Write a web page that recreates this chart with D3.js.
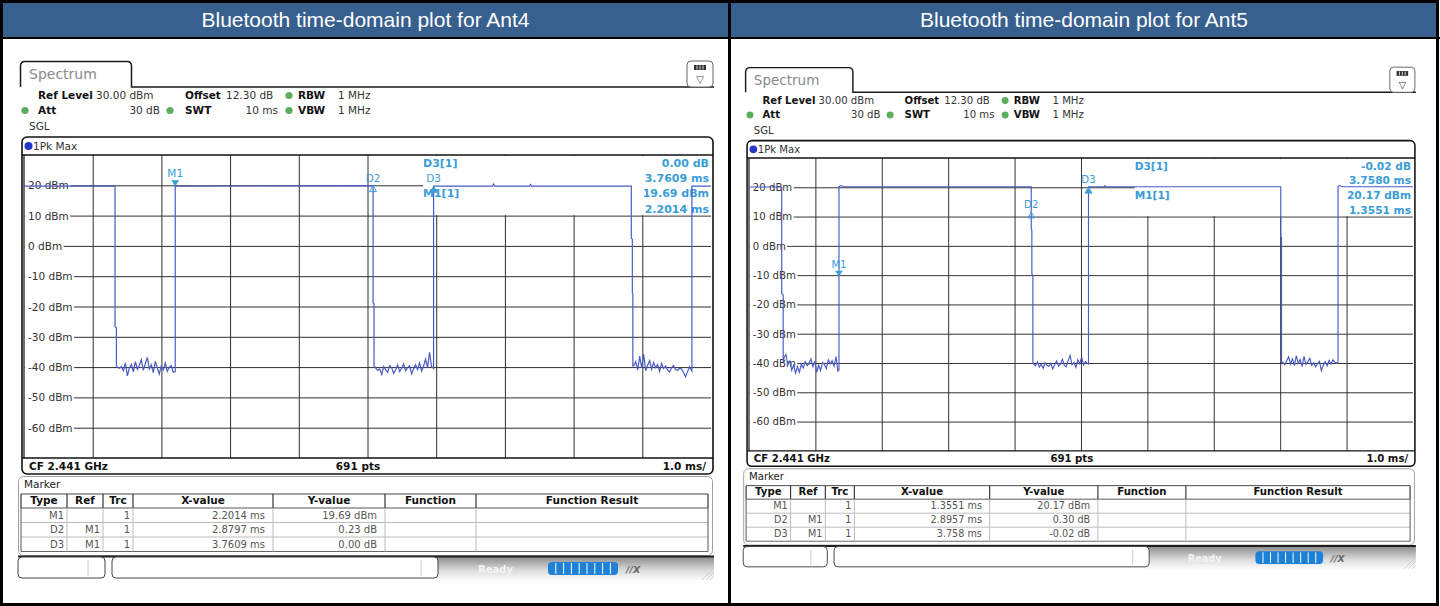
<!DOCTYPE html>
<html>
<head>
<meta charset="utf-8">
<script src="https://cdn.jsdelivr.net/npm/d3@7"></script>
<style>
  body { margin: 0; background: #fff; }
  svg text { font-family: "DejaVu Sans", sans-serif; }
</style>
</head>
<body>
<svg id="chart" width="1440" height="606"></svg>
<script>
// ---- data ----
const panelTitles = ["Bluetooth time-domain plot for Ant4", "Bluetooth time-domain plot for Ant5"];

const yTicksDbm = [20, 10, 0, -10, -20, -30, -40, -50, -60];
const xGridMs = [1, 2, 3, 4, 5, 6, 7, 8, 9];
const sweepStepMs = 0.029; // every 2nd of 691 sweep points over 10 ms

// Ant4 trace: edges and flat tops, [ms, dBm]
const ant4Edges1 = [[0, 19.7], [1.325, 19.7], [1.325, -26.7], [1.345, -27], [1.345, -39.5]];
const ant4Noise1 = [-40.1, -40.4, -39.8, -41.2, -38.6, -42.9, -40.3, -39.1, -41.6, -38.2, -40.7, -39.4, -37.5, -41.1, -38.9,
  -36.8, -40.6, -39.2, -41.8, -38.1, -40.2, -42.3, -39.6, -40.9, -38.7, -41.4, -40.1, -39.5, -41.7];
const ant4Edges2 = [[2.2014, -41.5], [2.2014, 19.69], [5.0811, 19.9], [5.0811, -18.8], [5.095, -19.2], [5.095, -39.6]];
const ant4Noise2 = [-40.3, -41.1, -40.6, -42.4, -39.8, -40.9, -41.7, -39.5, -40.2, -42.1, -40.8, -39.3, -41.5, -40.4, -38.9,
  -41.2, -40.1, -39.6, -42.2, -40.5, -39.2, -40.8, -38.6, -41.3, -39.7, -37.4, -40.2, -35.1, -39.8];
const ant4Edges3 = [[5.9623, -40.5], [5.9623, 19.7], [6.82, 19.7], [6.835, 20.4], [6.85, 19.7], [7.36, 19.7], [7.375, 20.3],
  [7.39, 19.7], [8.84, 19.7], [8.84, 2.6], [8.855, 2.2], [8.855, -15.5], [8.862, -16], [8.862, -39.6]];
const ant4Noise3 = [-39.6, -38.2, -40.9, -36.4, -40.3, -35.8, -41.2, -39.4, -37.9, -40.7, -38.5, -40.2, -39.1, -41.4, -38.8,
  -40.5, -39.7, -40.9, -41.6, -40.2, -39.5, -40.8, -41.1, -40.3, -40.6, -41.8, -43.2, -41.5, -39.9];
const ant4Edges4 = [[9.7223, -41.3], [9.7223, 19.7], [10, 19.7]];

// Ant5 trace
const ant5Edges1 = [[0, 20.1], [0.4925, 20.1], [0.4925, -16.3], [0.515, -16.8], [0.515, -39.6]];
const ant5Noise1 = [-38.2, -37.1, -40.6, -39.3, -42.5, -40.8, -43.4, -41.2, -43.1, -40.4, -41.7, -39.6, -40.9, -40.2, -38.6,
  -41.3, -39.4, -43.2, -40.7, -42.6, -39.8, -40.5, -41.9, -38.9, -40.3, -39.2, -41.1, -37.8, -42.8];
const ant5Edges2 = [[1.3551, -42.5], [1.3551, 20.2], [1.39, 20.6], [1.43, 20.2], [4.2508, 20.2], [4.2508, 5.8], [4.26, 5.4],
  [4.26, -9.6], [4.275, -10.1], [4.275, -39.5]];
const ant5Noise2 = [-40.2, -40.9, -39.6, -41.4, -40.5, -41.8, -39.9, -40.7, -41.2, -40.1, -42.0, -40.6, -39.3, -41.1, -40.4,
  -38.7, -40.8, -41.3, -39.2, -37.4, -40.6, -39.8, -41.5, -38.9, -40.3, -37.9, -40.7, -39.5, -40.2];
const ant5Edges3 = [[5.1131, -40.3], [5.1131, 20.2], [5.35, 20.2], [5.36, 20.6], [5.38, 20.2], [8.009, 20.2], [8.009, 3.0],
  [8.02, 2.8], [8.02, -39.8]];
const ant5Noise3 = [-39.8, -40.6, -39.2, -37.9, -40.4, -38.6, -40.9, -37.5, -40.1, -38.8, -41.2, -37.7, -40.5, -39.6, -38.4,
  -40.8, -39.9, -41.3, -40.2, -39.4, -42.6, -40.8, -39.5, -40.9, -39.1, -40.4, -38.9, -39.7, -40.1];
const ant5Edges4 = [[8.8711, -39.7], [8.8711, 20.3], [8.9, 20.6], [8.93, 20.2], [10, 20.2]];

// noise floor start times (ms)
const ant4NoiseStart = [1.36, 5.12, 8.875];
const ant5NoiseStart = [0.527, 4.285, 8.04];

// markers as drawn on screen
const markerNames = ["M1", "D2", "D3"];
const ant4MarkerMs = [2.2014, 5.0811, 5.9623];
const ant4MarkerDbm = [19.69, 19.9, 19.69];
const ant5MarkerMs = [1.3551, 4.2508, 5.1131];
const ant5MarkerDbm = [-10.5, 11.5, 20.0];

// marker readout in the top-right corner of the diagram
const ant4Readout = ["0.00 dB", "3.7609 ms", "19.69 dBm", "2.2014 ms"];
const ant5Readout = ["-0.02 dB", "3.7580 ms", "20.17 dBm", "1.3551 ms"];

// marker table
const tableHeaders = ["Type", "Ref", "Trc", "X-value", "Y-value", "Function", "Function Result"];
const ant4Rows = [["M1", "", "1", "2.2014 ms", "19.69 dBm"], ["D2", "M1", "1", "2.8797 ms", "0.23 dB"], ["D3", "M1", "1", "3.7609 ms", "0.00 dB"]];
const ant5Rows = [["M1", "", "1", "1.3551 ms", "20.17 dBm"], ["D2", "M1", "1", "2.8957 ms", "0.30 dB"], ["D3", "M1", "1", "3.758 ms", "-0.02 dB"]];

// ---- helpers ----
function burst(start, values) {
  return values.map((v, i) => [start + i * sweepStepMs, v]);
}

const TRACE = "#4a5bc6";
const MARK = "#3a9dd6";
const GRID = "#2e2e2e";

function txt(g, x, y, s, opt = {}) {
  return g.append("text")
    .attr("x", x).attr("y", y)
    .attr("font-size", opt.size || 10.5)
    .attr("font-weight", opt.bold ? "bold" : "normal")
    .attr("fill", opt.fill || "#333")
    .attr("text-anchor", opt.anchor || "start")
    .text(s);
}

function drawHeaderInfo(g) {
  // Spectrum tab
  g.append("path")
    .attr("d", "M20.5,87 V66 Q20.5,61.5 25,61.5 H127 Q131.5,61.5 131.5,66 V87 H714")
    .attr("fill", "none").attr("stroke", "#1a1a1a").attr("stroke-width", 1.5);
  txt(g, 29, 79, "Spectrum", {size: 14, fill: "#8a8a8a"});

  // top-right icon
  g.append("rect").attr("x", 687).attr("y", 61).attr("width", 26).attr("height", 26).attr("rx", 4)
    .attr("fill", "#fff").attr("stroke", "#666");
  g.append("rect").attr("x", 694).attr("y", 65).attr("width", 12).attr("height", 5).attr("fill", "#333");
  [697, 700, 703].forEach(xx => g.append("line").attr("x1", xx).attr("x2", xx).attr("y1", 65.5).attr("y2", 69.5)
    .attr("stroke", "#fff").attr("stroke-width", 0.8));
  txt(g, 700, 83, "▽", {size: 10, anchor: "middle", fill: "#444"});

  const dot = (cx, cy) => g.append("circle").attr("cx", cx).attr("cy", cy).attr("r", 3.6).attr("fill", "#5cae5c");
  txt(g, 38, 99, "Ref Level", {bold: true, fill: "#111"});
  txt(g, 96, 99, "30.00 dBm");
  txt(g, 185, 99, "Offset", {bold: true, fill: "#111"});
  txt(g, 226, 99, "12.30 dB");
  dot(289, 95.5);
  txt(g, 298, 99, "RBW", {bold: true, fill: "#111"});
  txt(g, 338, 99, "1 MHz");

  dot(25, 110.5);
  txt(g, 38, 114, "Att", {bold: true, fill: "#111"});
  txt(g, 160, 114, "30 dB", {anchor: "end"});
  dot(170, 110.5);
  txt(g, 185, 114, "SWT", {bold: true, fill: "#111"});
  txt(g, 278, 114, "10 ms", {anchor: "end"});
  dot(289, 110.5);
  txt(g, 298, 114, "VBW", {bold: true, fill: "#111"});
  txt(g, 338, 114, "1 MHz");

  txt(g, 29, 130, "SGL");
}

function drawDiagram(g, trace, mMs, mDbm, readout) {
  const x = d3.scaleLinear().domain([0, 10]).range([24, 711]);
  const y = d3.scaleLinear().domain([-70, 30]).range([458, 155]);
  const w = x(10) - x(0), h = y(-70) - y(30);

  // frame with 1Pk Max title
  g.append("rect").attr("x", 22).attr("y", 137).attr("width", 691).attr("height", 337).attr("rx", 5)
    .attr("fill", "#fff").attr("stroke", "#111").attr("stroke-width", 1.6);
  g.append("circle").attr("cx", 28.5).attr("cy", 146).attr("r", 4).attr("fill", "#2338c8");
  txt(g, 33, 150, "1Pk Max");

  // grid
  g.append("g").attr("transform", `translate(0,${y(-70)})`)
    .call(d3.axisBottom(x).tickValues(xGridMs).tickSize(-h).tickFormat(""))
    .call(a => a.select(".domain").remove())
    .selectAll("line").attr("stroke", GRID).attr("stroke-width", 1);
  g.append("g").attr("transform", `translate(${x(0)},0)`)
    .call(d3.axisLeft(y).tickValues(yTicksDbm).tickSize(-w).tickFormat(""))
    .call(a => a.select(".domain").remove())
    .selectAll("line").attr("stroke", GRID).attr("stroke-width", 1);

  // readout area covers the top right of the grid
  g.append("rect").attr("x", 423).attr("y", y(30) + 1).attr("width", x(10) - 423).attr("height", y(10) - y(30) - 1.5)
    .attr("fill", "#fff");
  txt(g, 423, 167, "D3[1]", {bold: true, fill: MARK, size: 11});
  txt(g, 423, 197, "M1[1]", {bold: true, fill: MARK, size: 11});
  readout.forEach((s, i) => txt(g, 709, [167, 182, 197, 213][i], s, {bold: true, fill: MARK, size: 11, anchor: "end"}));

  // level labels on white background
  yTicksDbm.forEach(v => {
    const t = txt(g, 28, y(v) + 4, `${v} dBm`, {size: 10.5});
    const bb = t.node().getBBox();
    g.insert("rect", () => t.node()).attr("x", 24.5).attr("y", y(v) - 6).attr("width", bb.x + bb.width - 23)
      .attr("height", 12).attr("fill", "#fff");
  });

  // plot borders
  g.append("line").attr("x1", 22).attr("x2", 713).attr("y1", y(30)).attr("y2", y(30)).attr("stroke", "#111").attr("stroke-width", 1.4);
  g.append("line").attr("x1", 22).attr("x2", 713).attr("y1", y(-70)).attr("y2", y(-70)).attr("stroke", "#111").attr("stroke-width", 1.4);
  g.append("line").attr("x1", x(0)).attr("x2", x(0)).attr("y1", y(30)).attr("y2", y(-70)).attr("stroke", "#111").attr("stroke-width", 1.2);

  // trace
  g.append("path").datum(trace)
    .attr("d", d3.line().x(d => x(d[0])).y(d => y(d[1])))
    .attr("fill", "none").attr("stroke", TRACE).attr("stroke-width", 1.2);

  // markers
  markerNames.forEach((name, i) => {
    const mx = x(mMs[i]), my = y(mDbm[i]);
    if (name === "M1") {
      g.append("path").attr("d", `M${mx - 4},${my - 6}L${mx + 4},${my - 6}L${mx},${my}Z`).attr("fill", MARK);
      txt(g, mx, my - 9, name, {fill: MARK, anchor: "middle"});
    } else {
      g.append("path").attr("d", `M${mx - 3.5},${my + 6}L${mx + 3.5},${my + 6}L${mx},${my}Z`)
        .attr("fill", name === "D3" ? MARK : "none").attr("stroke", MARK).attr("stroke-width", 1);
      txt(g, mx, my - 4, name, {fill: MARK, anchor: "middle"});
    }
  });

  // footer of diagram
  txt(g, 29, 470, "CF 2.441 GHz", {bold: true, fill: "#111"});
  txt(g, 358, 470, "691 pts", {bold: true, fill: "#111", anchor: "middle"});
  txt(g, 706, 470, "1.0 ms/", {bold: true, fill: "#111", anchor: "end"});
}

function drawMarkerTable(g, rows) {
  g.append("rect").attr("x", 18.5).attr("y", 476.5).attr("width", 694).attr("height", 79).attr("rx", 5)
    .attr("fill", "#fff").attr("stroke", "#a0a0a0");
  txt(g, 24, 488, "Marker", {fill: "#222"});

  const cols = [21, 67, 103, 133, 273, 385, 476, 708];
  const rowY = [494, 508, 522.5, 537, 551.5];
  // row lines
  g.append("line").attr("x1", cols[0]).attr("x2", cols[7]).attr("y1", rowY[0]).attr("y2", rowY[0]).attr("stroke", "#444");
  g.append("line").attr("x1", cols[0]).attr("x2", cols[7]).attr("y1", rowY[1]).attr("y2", rowY[1]).attr("stroke", "#555");
  [rowY[2], rowY[3]].forEach(yy => g.append("line").attr("x1", cols[0]).attr("x2", cols[7]).attr("y1", yy).attr("y2", yy).attr("stroke", "#bbb"));
  g.append("line").attr("x1", cols[0]).attr("x2", cols[7]).attr("y1", rowY[4]).attr("y2", rowY[4]).attr("stroke", "#666");
  cols.forEach((cx, i) => {
    const edge = i === 0 || i === cols.length - 1;
    g.append("line").attr("x1", cx).attr("x2", cx).attr("y1", rowY[0]).attr("y2", rowY[1])
      .attr("stroke", "#333").attr("stroke-width", 1.2);
    g.append("line").attr("x1", cx).attr("x2", cx).attr("y1", rowY[1]).attr("y2", rowY[4])
      .attr("stroke", edge ? "#555" : "#bbb");
  });
  tableHeaders.forEach((hd, i) => txt(g, (cols[i] + cols[i + 1]) / 2, 504, hd, {bold: true, fill: "#111", anchor: "middle", size: 10.5}));
  rows.forEach((r, ri) => {
    r.forEach((s, ci) => {
      const pad = ci >= 3 ? 8 : 3;
      txt(g, cols[ci + 1] - pad, rowY[ri + 1] + 10.5, s, {anchor: "end", fill: "#555", size: 10});
    });
  });
}

function drawStatusBar(g, id) {
  const grad = g.append("defs").append("linearGradient").attr("id", id).attr("x1", 0).attr("x2", 0).attr("y1", 0).attr("y2", 1);
  grad.append("stop").attr("offset", "0%").attr("stop-color", "#8d8d8d");
  grad.append("stop").attr("offset", "55%").attr("stop-color", "#dadada");
  grad.append("stop").attr("offset", "100%").attr("stop-color", "#ffffff");
  g.append("rect").attr("x", 430).attr("y", 557).attr("width", 284).attr("height", 24).attr("fill", `url(#${id})`);
  g.append("line").attr("x1", 18).attr("x2", 714).attr("y1", 556.5).attr("y2", 556.5).attr("stroke", "#1e1e1e").attr("stroke-width", 2.2);

  g.append("rect").attr("x", 18).attr("y", 557).attr("width", 87).attr("height", 21).attr("rx", 4)
    .attr("fill", "#fff").attr("stroke", "#444");
  g.append("line").attr("x1", 88).attr("x2", 88).attr("y1", 560).attr("y2", 576).attr("stroke", "#ccc");
  g.append("rect").attr("x", 112).attr("y", 557).attr("width", 326).attr("height", 21).attr("rx", 4)
    .attr("fill", "#fff").attr("stroke", "#444");
  g.append("line").attr("x1", 421).attr("x2", 421).attr("y1", 560).attr("y2", 576).attr("stroke", "#ccc");

  txt(g, 478, 573, "Ready", {bold: true, fill: "#f4f4f4", size: 10});
  g.append("rect").attr("x", 548).attr("y", 562).attr("width", 70).attr("height", 13).attr("rx", 4).attr("fill", "#1f80d8");
  d3.range(1, 9).forEach(k => g.append("line").attr("x1", 548 + k * 7.8).attr("x2", 548 + k * 7.8)
    .attr("y1", 563).attr("y2", 574).attr("stroke", "#fff").attr("stroke-width", 1));
  txt(g, 626, 573, "//X", {bold: true, fill: "#666", size: 9.5}).attr("font-style", "italic");
  [0, 4, 8].forEach(o => g.append("line").attr("x1", 702 + o).attr("x2", 713).attr("y1", 580).attr("y2", 569 + o)
    .attr("stroke", "#c8c8c8").attr("stroke-width", 0.8));
}

function drawScreen(g, trace, mMs, mDbm, readout, rows, id) {
  drawHeaderInfo(g);
  drawDiagram(g, trace, mMs, mDbm, readout);
  drawMarkerTable(g, rows);
  drawStatusBar(g, id);
}

// ---- page ----
const svg = d3.select("#chart");
svg.append("rect").attr("width", 1440).attr("height", 606).attr("fill", "#fff");

const cells = [[3, 728], [731, 1437]];
cells.forEach(([x0, x1], i) => {
  svg.append("rect").attr("x", x0).attr("y", 0).attr("width", x1 - x0).attr("height", 38).attr("fill", "#37608f");
  svg.append("text").attr("x", (x0 + x1) / 2).attr("y", 27).attr("text-anchor", "middle")
    .style("font-family", "'Liberation Sans', Arial, sans-serif")
    .attr("font-size", 21).attr("fill", "#fff").text(panelTitles[i]);
});

const ant4Trace = [].concat(ant4Edges1, burst(ant4NoiseStart[0], ant4Noise1), ant4Edges2,
  burst(ant4NoiseStart[1], ant4Noise2), ant4Edges3, burst(ant4NoiseStart[2], ant4Noise3), ant4Edges4);
const ant5Trace = [].concat(ant5Edges1, burst(ant5NoiseStart[0], ant5Noise1), ant5Edges2,
  burst(ant5NoiseStart[1], ant5Noise2), ant5Edges3, burst(ant5NoiseStart[2], ant5Noise3), ant5Edges4);

drawScreen(svg.append("g"), ant4Trace, ant4MarkerMs, ant4MarkerDbm, ant4Readout, ant4Rows, "sb4");
drawScreen(svg.append("g").attr("transform", "translate(725.8,8.2) scale(0.9665)"),
  ant5Trace, ant5MarkerMs, ant5MarkerDbm, ant5Readout, ant5Rows, "sb5");

// table borders
const B = "#000";
svg.append("rect").attr("x", 1.5).attr("y", 1.5).attr("width", 1436).attr("height", 603)
  .attr("fill", "none").attr("stroke", B).attr("stroke-width", 3);
svg.append("rect").attr("x", 728).attr("y", 0).attr("width", 3).attr("height", 606).attr("fill", B);
svg.append("rect").attr("x", 0).attr("y", 37).attr("width", 1440).attr("height", 2).attr("fill", B);
</script>
</body>
</html>
